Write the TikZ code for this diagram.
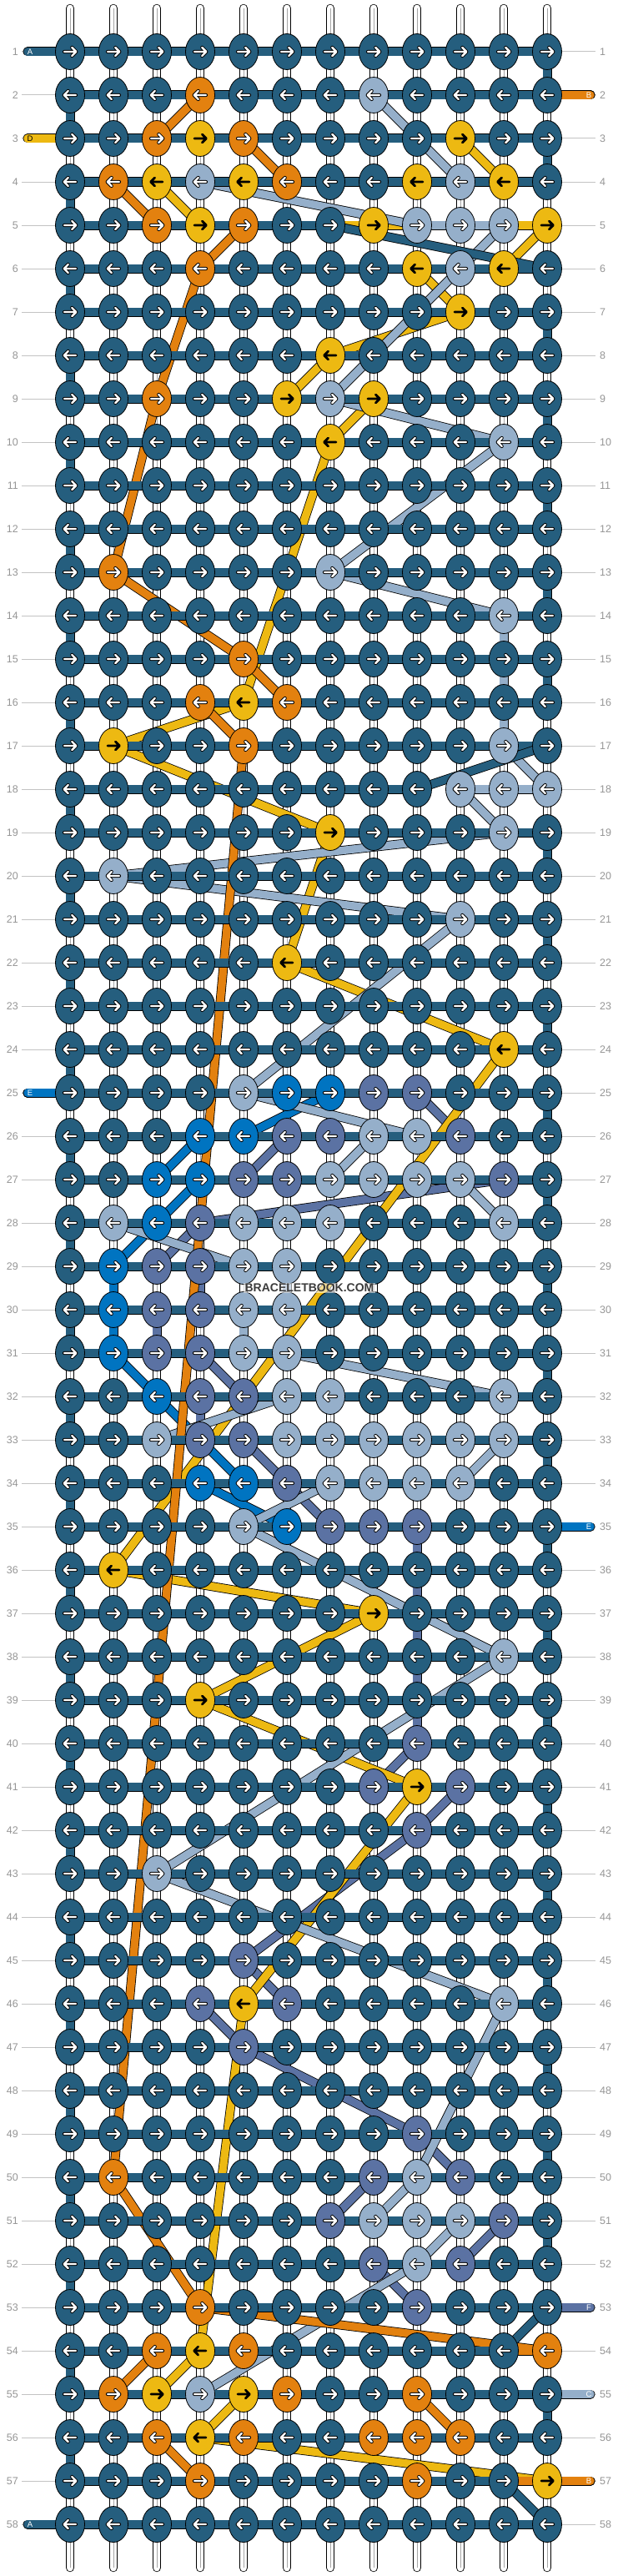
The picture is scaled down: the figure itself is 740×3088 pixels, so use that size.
\documentclass[tikz,border=0pt]{standalone}
\usepackage{fontspec}
\setmainfont{Liberation Sans}
\usetikzlibrary{shapes.geometric}
\definecolor{colA}{RGB}{37,94,126}
\definecolor{colB}{RGB}{227,129,15}
\definecolor{colC}{RGB}{149,175,202}
\definecolor{colD}{RGB}{237,185,18}
\definecolor{colE}{RGB}{0,116,193}
\definecolor{colF}{RGB}{91,114,163}
\definecolor{labgray}{RGB}{150,150,150}
\definecolor{linegray}{RGB}{195,195,195}
\definecolor{wmtext}{RGB}{60,60,60}

\newcount\srcol
\def\setrow#1#2{\def\srrow{#1}\global\srcol=0 \srparse#2\relax}
\def\srparse#1{\ifx#1\relax\else\global\advance\srcol by 1 \expandafter\xdef\csname kc-\srrow-\the\srcol\endcsname{#1}\expandafter\srparse\fi}

\setrow{1}{AAAAAAAAAAAA}
\setrow{2}{AAABAAACAAAA}
\setrow{3}{AABDBAAAADAA}
\setrow{4}{ABDCDBAADCDA}
\setrow{5}{AABDBAADCCCD}
\setrow{6}{AAABAAAADCDA}
\setrow{7}{AAAAAAAAADAA}
\setrow{8}{AAAAAADAAAAA}
\setrow{9}{AABAADCDAAAA}
\setrow{10}{AAAAAADAAACA}
\setrow{11}{AAAAAAAAAAAA}
\setrow{12}{AAAAAAAAAAAA}
\setrow{13}{ABAAAACAAAAA}
\setrow{14}{AAAAAAAAAACA}
\setrow{15}{AAAABAAAAAAA}
\setrow{16}{AAABDBAAAAAA}
\setrow{17}{ADAABAAAAACA}
\setrow{18}{AAAAAAAAACCC}
\setrow{19}{AAAAAADAAACA}
\setrow{20}{ACAAAAAAAAAA}
\setrow{21}{AAAAAAAAACAA}
\setrow{22}{AAAAADAAAAAA}
\setrow{23}{AAAAAAAAAAAA}
\setrow{24}{AAAAAAAAAADA}
\setrow{25}{AAAACEEFFAAA}
\setrow{26}{AAAEEFFCCFAA}
\setrow{27}{AAEEFFCCCCFA}
\setrow{28}{ACEFCCCAAACA}
\setrow{29}{AEFFCCAAAAAA}
\setrow{30}{AEFFCCAAAAAA}
\setrow{31}{AEFFCCAAAAAA}
\setrow{32}{AAEFFCCAAACA}
\setrow{33}{AACFFCCCCCCA}
\setrow{34}{AAAEEFCCCCAA}
\setrow{35}{AAAACEFFFAAA}
\setrow{36}{ADAAAAAAAAAA}
\setrow{37}{AAAAAAADAAAA}
\setrow{38}{AAAAAAAAAACA}
\setrow{39}{AAADAAAAAAAA}
\setrow{40}{AAAAAAAAFAAA}
\setrow{41}{AAAAAAAFDFAA}
\setrow{42}{AAAAAAAAFAAA}
\setrow{43}{AACAAAAAAAAA}
\setrow{44}{AAAAAAAAAAAA}
\setrow{45}{AAAAFAAAAAAA}
\setrow{46}{AAAFDFAAAACA}
\setrow{47}{AAAAFAAAAAAA}
\setrow{48}{AAAAAAAAAAAA}
\setrow{49}{AAAAAAAAFAAA}
\setrow{50}{ABAAAAAFCFAA}
\setrow{51}{AAAAAAFCCCFA}
\setrow{52}{AAAAAAAFCFAA}
\setrow{53}{AAABAAAAFAAA}
\setrow{54}{AABDBAAAAAAB}
\setrow{55}{ABDCDBAABAAA}
\setrow{56}{AABDBAABBBAA}
\setrow{57}{AAABAAAABAAD}
\setrow{58}{AAAAAAAAAAAA}

\newcommand\thread[3]{%
  \draw[threadout] (#1) -- (#2);
  \draw[threadin,#3] (#1) -- (#2);}

\begin{document}
\begin{tikzpicture}[x=1pt,y=-1pt,
  knotnode/.style={ellipse,draw=black,line width=0.8pt,minimum width=35pt,minimum height=43pt,inner sep=0pt},
  threadout/.style={line width=11pt,black,line cap=round},
  threadin/.style={line width=9.4pt,line cap=round},
  rownum/.style={text=labgray,font=\fontsize{12.5}{13}\selectfont,inner sep=0pt},
  stublab/.style={font=\fontsize{9.5}{10}\selectfont,inner sep=0pt},
  arrowout/.style={black,line width=4.2pt,line cap=round,line join=round},
  arrowin/.style={white,line width=2.4pt,line cap=round,line join=round},
  arrowdark/.style={black,line width=2.8pt,line cap=round,line join=round}]
\useasboundingbox (0,0) rectangle (740,3088);
\fill[white] (0,0) rectangle (740,3088);

% positions
\foreach \r in {1,...,58} {
  \foreach \c in {1,...,12} {
    \coordinate (p-\r-\c) at ({32+52*\c},{10+52*\r});
  }
  \coordinate (sl-\r) at (33,{10+52*\r});
  \coordinate (sr-\r) at (708,{10+52*\r});
  \coordinate (sll-\r) at (36,{10+52*\r});
  \coordinate (srl-\r) at (706,{10+52*\r});
}

% warp strings
\foreach \c in {1,...,12} {
  \coordinate (top-\c) at ({32+52*\c},10);
  \coordinate (bot-\c) at ({32+52*\c},3078);
  \draw[black,line width=10.4pt,line cap=round] (top-\c) -- (bot-\c);
  \draw[white,line width=8.8pt,line cap=round] (top-\c) -- (bot-\c);
  \draw[black!35,line width=0.7pt] (top-\c) -- (bot-\c);
}

% row labels
\foreach \r in {1,...,58} {
  \draw[linegray,line width=1pt] (26,{10+52*\r}) -- (66,{10+52*\r});
  \draw[linegray,line width=1pt] (674,{10+52*\r}) -- (714,{10+52*\r});
  \node[rownum,anchor=east] (ll-\r) at (22,{10+52*\r}) {\r};
  \node[rownum,anchor=west] (rl-\r) at (719,{10+52*\r}) {\r};
}

% threads
\foreach \T/\TC/\TL in {F/colF/white,E/colE/white,D/colD/black,C/colC/white,B/colB/white,A/colA/white} {
  \gdef\lastp{}
  \foreach \r in {1,...,58} {
    \foreach \k in {1,...,12} {
      \ifodd\r \edef\c{\k}\else \pgfmathtruncatemacro\c{13-\k}\fi
      \edef\cc{\csname kc-\r-\c\endcsname}
      \if\cc\T
        \ifx\lastp\empty
          \ifodd\r \edef\stub{sl-\r}\edef\lpos{sll-\r}\else \edef\stub{sr-\r}\edef\lpos{srl-\r}\fi
          \thread{\stub}{p-\r-\c}{\TC}
          \node[stublab,text=\TL] (lab-\T-s) at (\lpos) {\T};
        \else
          \thread{\lastp}{p-\r-\c}{\TC}
        \fi
        \xdef\lastp{p-\r-\c}\xdef\lastr{\r}
      \fi
    }
  }
  \ifodd\lastr \edef\stub{sr-\lastr}\edef\lpos{srl-\lastr}\else \edef\stub{sl-\lastr}\edef\lpos{sll-\lastr}\fi
  \thread{\lastp}{\stub}{\TC}
  \node[stublab,text=\TL] (lab-\T-e) at (\lpos) {\T};
}

% knots
\foreach \r in {1,...,58} {
  \foreach \c in {1,...,12} {
    \edef\cc{\csname kc-\r-\c\endcsname}
    \edef\kfill{col\cc}
    \node[knotnode,fill=\kfill] (k-\r-\c) at (p-\r-\c) {};
    \ifodd\r \def\dir{1}\else\def\dir{-1}\fi
    \begin{scope}[shift={(p-\r-\c)},xscale=\dir]
      \if\cc D
        \draw[arrowdark] (-7,0) -- (7,0) (2.3,-5) -- (7.3,0) -- (2.3,5);
      \else
        \draw[arrowout] (-7,0) -- (7,0) (2.3,-5) -- (7.3,0) -- (2.3,5);
        \draw[arrowin] (-7,0) -- (7,0) (2.3,-5) -- (7.3,0) -- (2.3,5);
      \fi
    \end{scope}
  }
}

% watermark
\node[font=\bfseries\fontsize{14}{14}\selectfont,text=wmtext,fill=white,fill opacity=0.55,text opacity=1,inner sep=1.5pt] (wm) at (371,1544) {BRACELETBOOK.COM};
\end{tikzpicture}
\end{document}
